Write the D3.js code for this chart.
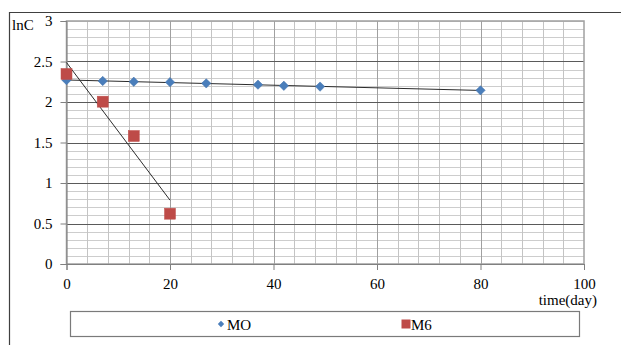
<!DOCTYPE html>
<html>
<head>
<meta charset="utf-8">
<script src="https://cdn.jsdelivr.net/npm/d3@7"></script>
<style>
  body { margin: 0; background: #fff; }
  svg { display: block; }
  svg text { font-family: "Times New Roman", "Liberation Serif", "DejaVu Serif", serif; font-size: 15px; }
</style>
</head>
<body>
<div id="chart"></div>
<script>
// series values
const moDays = [0, 7, 13, 20, 27, 37, 42, 49, 80];
const moLnC = [2.27, 2.26, 2.25, 2.245, 2.23, 2.214, 2.2, 2.19, 2.144];
const m6Days = [0, 7, 13, 20];
const m6LnC = [2.346, 2.004, 1.58, 0.621];
const xTicks = [0, 20, 40, 60, 80, 100];
const yTicks = [0, 0.5, 1, 1.5, 2, 2.5, 3];
const seriesNames = ["MO", "M6"];

const width = 621, height = 345;
const margin = { left: 66.5, right: 37, top: 21, bottom: 81 };
const blue = "#4a7ebb", red = "#be4b48";

const svg = d3.select("#chart").append("svg")
  .attr("width", width).attr("height", height);

const x = d3.scaleLinear().domain([0, 100]).range([margin.left, width - margin.right]);
const y = d3.scaleLinear().domain([0, 3]).range([height - margin.bottom, margin.top]);

// outer chart frame (cut off on right and bottom)
svg.append("path")
  .attr("d", `M9.5,${height} V12.5 H${width}`)
  .attr("fill", "none").attr("stroke", "#404040").attr("stroke-width", 1.2);

// gridlines
const grid = svg.append("g");
grid.selectAll(".hmin").data(d3.range(0, 3.001, 0.1))
  .join("line")
  .attr("x1", x(0)).attr("x2", x(100))
  .attr("y1", (d) => Math.round(y(d)) + 0.5).attr("y2", (d) => Math.round(y(d)) + 0.5)
  .attr("stroke", "#cdcdcd");
grid.selectAll(".vmin").data(d3.range(4, 100, 4))
  .join("line")
  .attr("x1", (d) => Math.round(x(d)) + 0.5).attr("x2", (d) => Math.round(x(d)) + 0.5)
  .attr("y1", y(3)).attr("y2", y(0))
  .attr("stroke", "#c4c4c4");
grid.selectAll(".vmaj").data(xTicks.slice(1, -1))
  .join("line")
  .attr("x1", (d) => Math.round(x(d)) + 0.5).attr("x2", (d) => Math.round(x(d)) + 0.5)
  .attr("y1", y(3)).attr("y2", y(0))
  .attr("stroke", "#a0a0a0");
grid.selectAll(".hmaj").data(yTicks.slice(1, -1))
  .join("line")
  .attr("x1", x(0)).attr("x2", x(100))
  .attr("y1", (d) => Math.round(y(d)) + 0.5).attr("y2", (d) => Math.round(y(d)) + 0.5)
  .attr("stroke", "#5a5a5a");

// plot area border
svg.append("rect")
  .attr("x", x(0)).attr("y", y(3))
  .attr("width", x(100) - x(0)).attr("height", y(0) - y(3))
  .attr("fill", "none").attr("stroke", "#a0a0a0").attr("stroke-width", 1.5);

// axes
const xAxis = svg.append("g")
  .attr("transform", `translate(0,${y(0)})`)
  .call(d3.axisBottom(x).tickValues(xTicks).tickSize(6).tickPadding(8));
const yAxis = svg.append("g")
  .attr("transform", `translate(${x(0)},0)`)
  .call(d3.axisLeft(y).tickValues(yTicks).tickSize(6).tickPadding(8).tickFormat(d3.format("")));
[xAxis, yAxis].forEach((g) => {
  g.attr("font-family", null).attr("font-size", null);
  g.select(".domain").attr("stroke", "#808080");
  g.selectAll(".tick line").attr("stroke", "#808080");
  g.selectAll("text").attr("fill", "#000");
});
yAxis.selectAll(".tick text").attr("dy", "0.3em");

// axis titles
svg.append("text").attr("x", 12).attr("y", 30).text("lnC");
svg.append("text").attr("x", 597).attr("y", 305)
  .attr("text-anchor", "end").text("time(day)");

// least squares trendlines
function fit(xs, ys) {
  const mx = d3.mean(xs), my = d3.mean(ys);
  const sxy = d3.sum(xs, (v, i) => (v - mx) * (ys[i] - my));
  const sxx = d3.sum(xs, (v) => (v - mx) * (v - mx));
  const b = sxy / sxx;
  return (v) => my + b * (v - mx);
}
const trend = [[moDays, moLnC], [m6Days, m6LnC]];
trend.forEach(([xs, ys]) => {
  const f = fit(xs, ys);
  const x0 = d3.min(xs), x1 = d3.max(xs);
  svg.append("line")
    .attr("x1", x(x0)).attr("y1", y(f(x0)))
    .attr("x2", x(x1)).attr("y2", y(f(x1)))
    .attr("stroke", "#2b2b2b").attr("stroke-width", 1);
});

// markers
const diamond = d3.symbol().type(d3.symbolDiamond2).size(56);
svg.append("g").selectAll("path")
  .data(moDays.map((d, i) => [d, moLnC[i]]))
  .join("path")
  .attr("d", diamond)
  .attr("transform", (d) => `translate(${x(d[0])},${y(d[1])})`)
  .attr("fill", blue).attr("stroke", "#3f6fa8").attr("stroke-width", 0.5);

svg.append("g").selectAll("rect")
  .data(m6Days.map((d, i) => [d, m6LnC[i]]))
  .join("rect")
  .attr("x", (d) => x(d[0]) - 5.5).attr("y", (d) => y(d[1]) - 5.5)
  .attr("width", 11).attr("height", 11)
  .attr("fill", red).attr("stroke", "#c0504d").attr("stroke-width", 0.5);

// legend
const lg = svg.append("g");
lg.append("rect")
  .attr("x", 70.5).attr("y", 311.5).attr("width", 509).attr("height", 25)
  .attr("fill", "#fff").attr("stroke", "#7a7a7a").attr("stroke-width", 1.2);
lg.append("path")
  .attr("d", d3.symbol().type(d3.symbolDiamond2).size(26))
  .attr("transform", "translate(221,324)")
  .attr("fill", blue);
lg.append("rect").attr("x", 401.5).attr("y", 319.5).attr("width", 9).attr("height", 9)
  .attr("fill", red);
lg.selectAll("text").data(seriesNames).join("text")
  .attr("x", (d, i) => (i === 0 ? 227 : 411))
  .attr("y", 329.5)
  .text((d) => d);
</script>
</body>
</html>
